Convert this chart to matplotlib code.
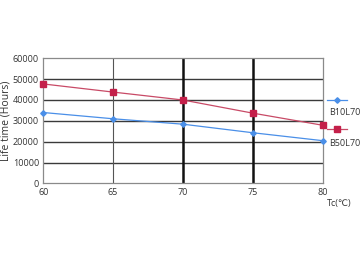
import matplotlib
matplotlib.use("Agg")
import matplotlib.pyplot as plt
from matplotlib.lines import Line2D

plt.rcParams['font.family'] = ['Open Sans', 'DejaVu Sans']

tc = [60, 65, 70, 75, 80]
b10l70 = [34000, 31000, 28400, 24300, 20500]
b50l70 = [47700, 43800, 40000, 33700, 27900]
yticks = [0, 10000, 20000, 30000, 40000, 50000, 60000]

fig = plt.figure(figsize=(3.6, 2.62), dpi=100)
ax = fig.add_axes([0.12, 0.30, 0.776, 0.4775])

# grid
for y in yticks[1:-1]:
    ax.axhline(y, color='#3a3a3a', lw=1.0, zorder=1)
ax.axvline(65, color='#555555', lw=0.8, zorder=1)
ax.axvline(70, color='#111111', lw=1.8, zorder=1)
ax.axvline(75, color='#111111', lw=1.8, zorder=1)

blue = '#4a8fe8'
red = '#c4204a'
ax.plot(tc, b10l70, color=blue, lw=0.9, marker='D', ms=2.8, zorder=3, clip_on=False)
ax.plot(tc, b50l70, color='#c84a66', lw=0.9, marker='s', ms=5,
        mfc=red, mec=red, zorder=3, clip_on=False)

ax.set_xlim(60, 80)
ax.set_ylim(0, 60000)
ax.set_xticks(tc)
ax.set_yticks(yticks)
ax.tick_params(length=0, labelsize=6.5, colors='#333333')
ax.tick_params(axis='x', pad=3.5)
ax.tick_params(axis='y', pad=3)
for s in ax.spines.values():
    s.set_color('#8a8a8a')
    s.set_linewidth(0.9)
ax.set_ylabel('Life time (Hours)', fontsize=7.5, color='#333333', labelpad=1)

fig.text(0.908, 0.225, 'Tc(℃)', fontsize=6.5, color='#333333', ha='left', va='center')

# legend drawn outside the axes
fig.add_artist(Line2D([0.907, 0.963], [0.617, 0.617], color=blue, lw=0.9,
                      transform=fig.transFigure))
fig.add_artist(Line2D([0.935], [0.617], color=blue, marker='D', ms=2.8,
                      transform=fig.transFigure))
fig.add_artist(Line2D([0.907, 0.963], [0.507, 0.507], color='#c84a66', lw=0.9,
                      transform=fig.transFigure))
fig.add_artist(Line2D([0.935], [0.507], color=red, marker='s', ms=5,
                      transform=fig.transFigure))
fig.text(0.913, 0.571, 'B10L70', fontsize=6.5, color='#333333', va='center')
fig.text(0.913, 0.453, 'B50L70', fontsize=6.5, color='#333333', va='center')

fig.savefig('out.png', dpi=100)
